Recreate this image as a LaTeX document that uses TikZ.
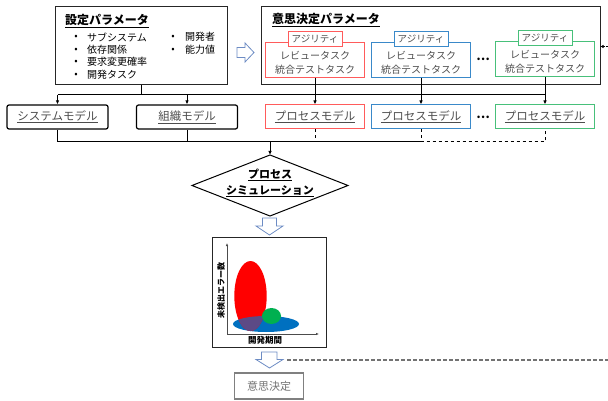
\documentclass[tikz,border=0pt]{standalone}
\usepackage{fontspec}
\setmainfont{Noto Sans CJK JP}
\usetikzlibrary{arrows.meta,shapes.geometric}
\definecolor{cred}{HTML}{FF5B5B}
\definecolor{cblue}{HTML}{3A89C9}
\definecolor{cgreen}{HTML}{48C07A}
\definecolor{tgray}{HTML}{4D4D4D}
\definecolor{arrblue}{HTML}{6D8CC4}
\definecolor{ered}{HTML}{FF0000}
\definecolor{eblue}{HTML}{0070C0}
\definecolor{egreen}{HTML}{00B050}
\definecolor{epurple}{HTML}{5C4A86}
\begin{document}
\begin{tikzpicture}[x=1pt,y=-1pt,
  frame/.style={draw=black!85, line width=1pt, inner sep=0pt},
  model/.style={draw, line width=1.2pt, rounded corners=2pt, inner sep=0pt, minimum height=24pt, font=\fontsize{11.5}{13}\selectfont, text=tgray},
  pmodel/.style={draw=#1, line width=1pt, inner sep=0pt, minimum width=99pt, minimum height=24pt, font=\fontsize{11.5}{13}\selectfont, text=tgray},
  pbox/.style={draw=#1, line width=1pt, inner sep=0pt, minimum width=99pt, minimum height=35pt},
  tab/.style={draw=#1, fill=white, line width=1pt, inner sep=0pt, minimum width=54pt, minimum height=15pt, font=\fontsize{9.5}{10}\selectfont, text=tgray},
  ptext/.style={align=center, font=\fontsize{10}{13.5}\selectfont, text=tgray},
  item/.style={anchor=west, inner sep=0pt, font=\fontsize{10}{12}\selectfont},
  bul/.style={inner sep=0pt, font=\fontsize{10}{12}\selectfont},
  title/.style={anchor=west, inner sep=0pt, font=\bfseries\fontsize{12}{14}\selectfont},
  link/.style={line width=1pt},
  arr/.style={link, -{Latex[length=4pt,width=3.5pt]}},
  hollow/.style={draw=arrblue, line width=0.8pt, fill=white},
  dotsn/.style={inner sep=0pt, font=\bfseries\fontsize{12}{12}\selectfont},
]
\useasboundingbox (0,0) rectangle (608,401);

% setting parameters
\node[frame, minimum width=172pt, minimum height=78pt] (set) at (141.5,46) {};
\node[title] (settitle) at (65,21) {\underline{設定パラメータ}};
\node[bul] (b1) at (76,37) {•};
\node[bul] (b2) at (76,50) {•};
\node[bul] (b3) at (76,62) {•};
\node[bul] (b4) at (76,75) {•};
\node[item] (i1) at (87,37) {サブシステム};
\node[item] (i2) at (87,50) {依存関係};
\node[item] (i3) at (87,62) {要求変更確率};
\node[item] (i4) at (87,75) {開発タスク};
\node[bul] (b5) at (173,37) {•};
\node[bul] (b6) at (173,50) {•};
\node[item] (i5) at (185,37) {開発者};
\node[item] (i6) at (185,50) {能力値};

% hollow right arrow
\draw[hollow] (237,47.5) -- (245,47.5) -- (245,43) -- (254,52.5) -- (245,62) -- (245,57.5) -- (237,57.5) -- cycle;

% decision parameters
\node[frame, minimum width=339pt, minimum height=78pt] (dec) at (430.5,46) {};
\node[title] (dectitle) at (272,20) {\underline{意思決定パラメータ}};

\node[pbox=cred] (pr) at (315,60) {};
\node[tab=cred] (tr) at (315,39.5) {アジリティ};
\node[ptext] (xr) at (315,63) {レビュータスク\\統合テストタスク};

\node[pbox=cblue] (pb) at (421,60) {};
\node[tab=cblue] (tb) at (421,39.5) {アジリティ};
\node[ptext] (xb) at (421,63) {レビュータスク\\統合テストタスク};

\node[pbox=cgreen] (pg) at (545,59) {};
\node[tab=cgreen] (tg) at (545,38.5) {アジリティ};
\node[ptext] (xg) at (545,62) {レビュータスク\\統合テストタスク};

\node[dotsn] (dots1) at (483,59) {…};

% right-side feedback arrow stub
\coordinate (rin) at (608,46.5);
\draw[line width=0.8pt, dash pattern=on 2pt off 1pt, -{Latex[length=3pt,width=3.5pt]}] (rin) -- (dec.east |- rin);

% buses
\coordinate (busT) at (300,95);
\coordinate (busB) at (300,142);

% models
\node[model, minimum width=101pt] (sys) at (57.5,117) {\underline{システムモデル}};
\node[model, minimum width=101pt] (org) at (187,117) {\underline{組織モデル}};
\node[pmodel=cred] (mr) at (315,117) {\underline{プロセスモデル}};
\node[pmodel=cblue] (mb) at (421,117) {\underline{プロセスモデル}};
\node[pmodel=cgreen] (mg) at (545,117) {\underline{プロセスモデル}};
\node[dotsn] (dots2) at (483,117) {…};

\draw[link] (set.south) -- (set.south |- busT);
\draw[link] (pr.south) -- (pr.south |- busT);
\draw[link] (pb.south) -- (pb.south |- busT);
\draw[link] (pg.south) -- (pg.south |- busT);
\draw[link] (sys.north |- busT) -- (mg.north |- busT);
\draw[arr] (sys.north |- busT) -- (sys.north);
\draw[arr] (org.north |- busT) -- (org.north);
\draw[arr] (mr.north |- busT) -- (mr.north);
\draw[arr] (mb.north |- busT) -- (mb.north);
\draw[arr] (mg.north |- busT) -- (mg.north);

\draw[link] (sys.south) -- (sys.south |- busB) -- (mb.south |- busB);
\draw[link] (org.south) -- (org.south |- busB);
\draw[link, dashed] (mr.south) -- (mr.south |- busB);
\draw[link, dashed] (mb.south) -- (mb.south |- busB) -- (mg.south |- busB) -- (mg.south);

% simulation diamond
\coordinate (simN) at (270,155);
\coordinate (simS) at (270,216);
\coordinate (simW) at (192,185.5);
\coordinate (simE) at (348,185.5);
\draw[line width=1pt] (simN) -- (simE) -- (simS) -- (simW) -- cycle;
\node[inner sep=0pt, align=center, font=\bfseries\fontsize{11}{16}\selectfont] (sim) at (270,183) {\underline{プロセス}\\\underline{シミュレーション}};
\draw[arr] (simN |- busB) -- (simN);

% hollow down arrow 1
\draw[hollow] (262.5,218) -- (276.5,218) -- (276.5,226) -- (283,226) -- (269.5,235) -- (256,226) -- (262.5,226) -- cycle;

% chart
\node[frame, minimum width=114pt, minimum height=110pt] (chart) at (269.7,292) {};
\fill[eblue] (266,324) ellipse [x radius=33, y radius=8];
\fill[ered] (250.5,296) ellipse [x radius=16.2, y radius=35];
\begin{scope}
  \clip (250.5,296) ellipse [x radius=16.2, y radius=35];
  \fill[epurple] (266,324) ellipse [x radius=33, y radius=8];
\end{scope}
\fill[egreen] (271.5,316) ellipse [x radius=9.5, y radius=8];
\coordinate (org0) at (227,334);
\coordinate (ytop) at (227,243);
\coordinate (xend) at (319,334);
\draw[line width=0.6pt, black!70, -{Latex[length=3pt,width=2.5pt]}] (org0) -- (ytop);
\draw[line width=0.6pt, black!70, -{Latex[length=3pt,width=2.5pt]}] (org0) -- (xend);
\node[rotate=90, inner sep=0pt, font=\bfseries\fontsize{8}{9}\selectfont] (ylab) at (221,290) {未検出エラー数};
\node[inner sep=0pt, font=\bfseries\fontsize{8.5}{9}\selectfont] (xlab) at (265,340.5) {開発期間};

% hollow down arrow 2
\draw[hollow] (261.5,352) -- (277,352) -- (277,359.5) -- (283,359.5) -- (269.5,368) -- (256,359.5) -- (261.5,359.5) -- cycle;
\coordinate (dstart) at (287,360);
\coordinate (dend) at (608,360);
\draw[line width=1.5pt, black!55, dash pattern=on 4pt off 2pt] (dstart) -- (dend);

% decision
\node[draw=black!50, line width=1.5pt, inner sep=0pt, minimum width=69pt, minimum height=26pt, text=black!55, font=\fontsize{11}{13}\selectfont] (dd) at (269,386) {意思決定};
\end{tikzpicture}
\end{document}
